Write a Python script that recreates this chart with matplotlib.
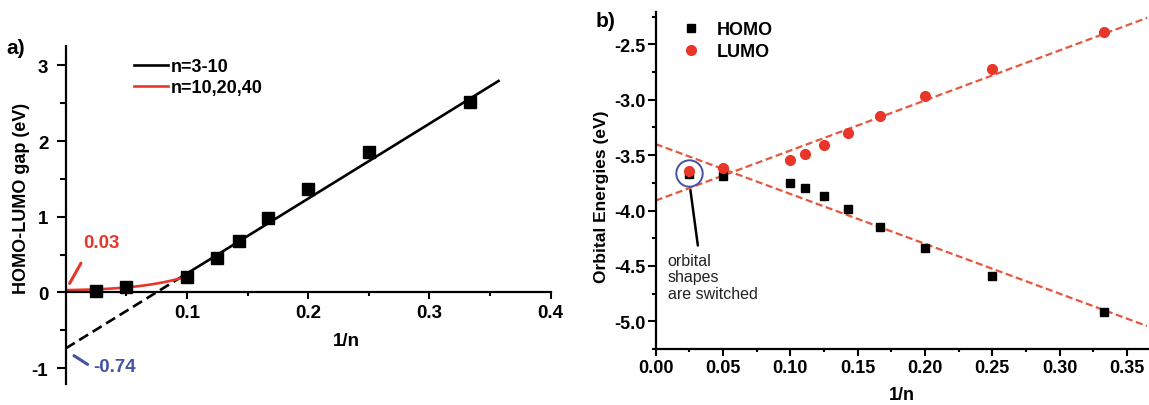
import matplotlib
matplotlib.use('Agg')
import matplotlib.pyplot as plt
import numpy as np
from matplotlib.ticker import MultipleLocator, FixedLocator, FormatStrFormatter

plt.rcParams['font.family'] = ['Liberation Sans', 'DejaVu Sans']
plt.rcParams['font.weight'] = 'bold'
plt.rcParams['axes.linewidth'] = 1.6
plt.rcParams['axes.unicode_minus'] = False

W, H = 1149, 406

# panel a: HOMO-LUMO gap
gap_inv_n = [1/40, 1/20, 1/10, 1/8, 1/7, 1/6, 1/5, 1/4, 1/3]
gap_ev = [0.02, 0.07, 0.21, 0.46, 0.68, 0.98, 1.37, 1.86, 2.52]
lin_slope, lin_icpt = 9.9, -0.74          # n=3-10 fit
long_c0, long_c1, long_c3 = 0.03, 0.36, 144.0  # n=10,20,40 fit

# panel b: orbital energies
orb_inv_n = [1/40, 1/20, 1/10, 1/9, 1/8, 1/7, 1/6, 1/5, 1/4, 1/3]
homo = [-3.67, -3.69, -3.75, -3.80, -3.87, -3.99, -4.15, -4.34, -4.59, -4.92]
lumo = [-3.645, -3.62, -3.54, -3.49, -3.41, -3.30, -3.15, -2.97, -2.72, -2.39]
homo_fit = (-4.50, -3.40)
lumo_fit = (4.52, -3.91)

RED = '#e8362a'
FITRED = '#e4583e'
BLUE = '#4452a6'


def fpos(x, y):
    return x / W, 1 - y / H


fig = plt.figure(figsize=(W / 100, H / 100), dpi=100)

# ---- a) ----
ax1 = fig.add_axes([65.7 / W, 1 - 385 / H, (550.7 - 65.7) / W, (385 - 46.7) / H])
ax1.set_xlim(0, 0.4)
ax1.set_ylim(-1.21, 3.26)
ax1.spines['top'].set_visible(False)
ax1.spines['right'].set_visible(False)
ax1.spines['bottom'].set_position(('data', 0))

xd = np.linspace(0, 0.1, 50)
ax1.plot(xd, lin_slope * xd + lin_icpt, color='black', lw=1.9, dashes=(4, 2))
xs = np.linspace(0.1, 0.357, 50)
ax1.plot(xs, lin_slope * xs + lin_icpt, color='black', lw=1.9, label='n=3-10')
xr = np.linspace(0, 0.1, 80)
ax1.plot(xr, long_c0 + long_c1 * xr + long_c3 * xr ** 3, color=RED, lw=1.9,
         label='n=10,20,40')
ax1.plot(gap_inv_n, gap_ev, 's', color='black', ms=8, zorder=5)

ax1.xaxis.set_major_locator(FixedLocator([0.1, 0.2, 0.3, 0.4]))
ax1.xaxis.set_minor_locator(FixedLocator([0.05, 0.15, 0.25, 0.35]))
ax1.xaxis.set_major_formatter(FormatStrFormatter('%.1f'))
ax1.yaxis.set_major_locator(MultipleLocator(1))
ax1.yaxis.set_minor_locator(MultipleLocator(0.5))
ax1.tick_params(axis='x', which='major', length=5, width=1.5, pad=3.5, labelsize=13.5)
ax1.tick_params(axis='x', which='minor', length=3, width=1.5)
ax1.tick_params(axis='y', which='major', length=6.5, width=1.5, pad=6, labelsize=13.5)
ax1.tick_params(axis='y', which='minor', length=4, width=1.5)

ax1.legend(loc='upper left', bbox_to_anchor=fpos(134, 59),
           bbox_transform=fig.transFigure, frameon=False,
           fontsize=13, handlelength=1.9, handletextpad=0.15, labelspacing=0.22,
           borderpad=0, borderaxespad=0)

ax1.annotate('', xy=(0.0021, 0.087), xytext=(0.0137, 0.418),
             arrowprops=dict(arrowstyle='-', color=RED, lw=2.2))
ax1.text(0.0297, 0.661, '0.03', color=RED, fontsize=13.5, ha='center', va='center')
ax1.annotate('', xy=(0.0049, -0.816), xytext=(0.020, -0.971),
             arrowprops=dict(arrowstyle='-', color=BLUE, lw=2.2))
ax1.text(0.0228, -0.984, '-0.74', color=BLUE, fontsize=13.5, ha='left', va='center')

fig.text(*fpos(6, 48), 'a)', fontsize=15, ha='left', va='center')
fig.text(*fpos(21.7, 198), 'HOMO-LUMO gap (eV)', fontsize=13, rotation=90,
         ha='center', va='center')
fig.text(*fpos(346.7, 341.7), '1/n', fontsize=13.5, ha='center', va='center')

# ---- b) ----
ax2 = fig.add_axes([655.7 / W, 1 - 350 / H, 0.37 * 1346 / W, (350 - 13.3) / H])
ax2.set_xlim(0, 0.37)
ax2.set_ylim(-5.25, -2.21)
ax2.spines['top'].set_visible(False)
ax2.spines['right'].set_visible(False)

xf = np.linspace(0, 0.365, 50)
ax2.plot(xf, homo_fit[0] * xf + homo_fit[1], color=FITRED, lw=1.6, dashes=(3.2, 1.6))
ax2.plot(xf, lumo_fit[0] * xf + lumo_fit[1], color=FITRED, lw=1.6, dashes=(3.2, 1.6))
ax2.plot(orb_inv_n, homo, 's', color='black', ms=6.2, ls='none', label='HOMO', zorder=5)
ax2.plot(orb_inv_n, lumo, 'o', color=RED, ms=7, ls='none', label='LUMO', zorder=6)

# circle around the n=40 pair
ax2.plot(orb_inv_n[0], (homo[0] + lumo[0]) / 2 - 0.005, 'o', mfc='none', mec=BLUE,
         ms=19, mew=1.4, zorder=7)
ax2.annotate('', xy=(0.0255, -3.79), xytext=(0.0316, -4.34),
             arrowprops=dict(arrowstyle='-', color='black', lw=1.8))
ax2.text(0.0089, -4.385, 'orbital\nshapes\nare switched', fontsize=11.5,
         fontweight='normal', ha='left', va='top', linespacing=1.1,
         color='#222222')

ax2.xaxis.set_major_locator(MultipleLocator(0.05))
ax2.xaxis.set_minor_locator(MultipleLocator(0.025))
ax2.xaxis.set_major_formatter(FormatStrFormatter('%.2f'))
ax2.yaxis.set_major_locator(MultipleLocator(0.5))
ax2.yaxis.set_minor_locator(MultipleLocator(0.25))
ax2.yaxis.set_major_formatter(FormatStrFormatter('%.1f'))
ax2.tick_params(axis='x', which='major', length=5, width=1.5, pad=2, labelsize=13)
ax2.tick_params(axis='x', which='minor', length=2.5, width=1.5)
ax2.tick_params(axis='y', which='major', length=5.5, width=1.5, pad=2, labelsize=13)
ax2.tick_params(axis='y', which='minor', length=3, width=1.5)

ax2.legend(loc='upper left', bbox_to_anchor=fpos(682, 22),
           bbox_transform=fig.transFigure, frameon=False,
           fontsize=13, handlelength=1.0, handletextpad=0.9, labelspacing=0.3,
           borderpad=0, borderaxespad=0)

fig.text(*fpos(596, 21.7), 'b)', fontsize=15, ha='left', va='center')
fig.text(*fpos(601.7, 197), 'Orbital Energies (eV)', fontsize=12.5, rotation=90,
         ha='center', va='center')
fig.text(*fpos(901.7, 396), '1/n', fontsize=13, ha='center', va='center')

fig.savefig('out.png', dpi=100)
